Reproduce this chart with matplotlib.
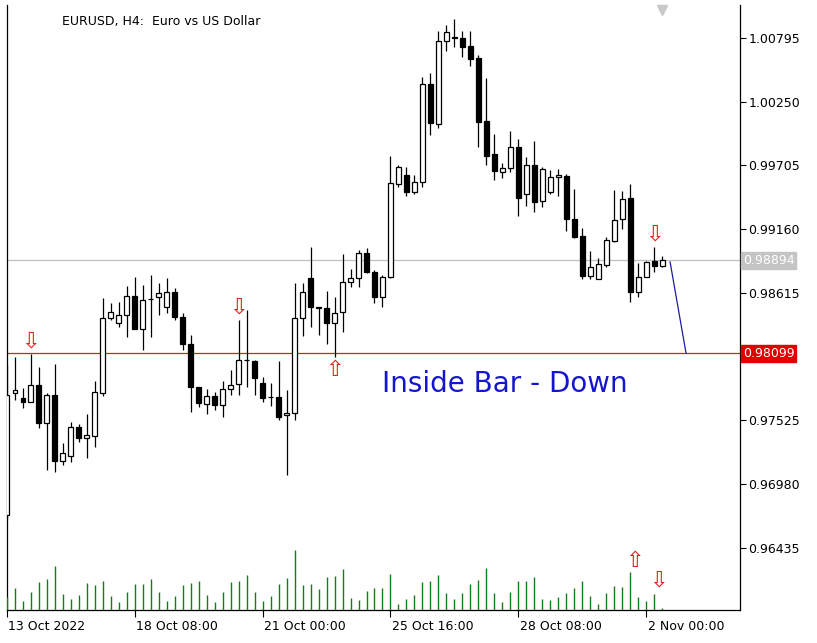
import matplotlib.pyplot as plt
import matplotlib.transforms as mtransforms
import numpy as np

# H4 candles, bar 0 = 13 Oct 2022 00:00
opens = [0.96717, 0.97760, 0.97717, 0.97683, 0.97828, 0.97503, 0.97743, 0.97179, 0.97221, 0.97469,
         0.97375, 0.97392, 0.97760, 0.98401, 0.98358, 0.98427, 0.98589, 0.98307, 0.98564, 0.98581,
         0.98495, 0.98623, 0.98410, 0.98179, 0.97812, 0.97666, 0.97734, 0.97657, 0.97794, 0.97837,
         0.98042, 0.98034, 0.97845, 0.97726, 0.97726, 0.97572, 0.97589, 0.98401, 0.98743, 0.98495,
         0.98487, 0.98358, 0.98452, 0.98709, 0.98743, 0.98957, 0.98794, 0.98581, 0.98752, 0.99547,
         0.99624, 0.99478, 0.99564, 1.00402, 1.00060, 1.00769, 1.00804, 1.00795, 1.00727, 1.00624,
         1.00085, 0.99803, 0.99649, 0.99684, 0.99863, 0.99461, 0.99709, 0.99401, 0.99478, 0.99607,
         0.99615, 0.99248, 0.99102, 0.98760, 0.98734, 0.98854, 0.99060, 0.99248, 0.99427, 0.98623,
         0.98752, 0.98889, 0.98846]
highs = [0.97999, 0.98068, 0.97803, 0.98093, 0.97982, 0.97760, 0.98008, 0.97332, 0.97512, 0.97495,
         0.97580, 0.97862, 0.98572, 0.98529, 0.98538, 0.98675, 0.98752, 0.98683, 0.98769, 0.98700,
         0.98743, 0.98658, 0.98444, 0.98256, 0.97812, 0.97794, 0.97768, 0.97862, 0.97956, 0.98384,
         0.98470, 0.98042, 0.97897, 0.97845, 0.98034, 0.97786, 0.98700, 0.98700, 0.99008, 0.98495,
         0.98632, 0.98581, 0.98948, 0.98820, 0.98983, 0.99000, 0.98812, 0.98769, 0.99786, 0.99709,
         0.99692, 0.99624, 1.00462, 1.00496, 1.00855, 1.00906, 1.00958, 1.00855, 1.00855, 1.00650,
         1.00453, 0.99974, 0.99726, 1.00000, 0.99932, 0.99778, 0.99914, 0.99692, 0.99667, 0.99675,
         0.99632, 0.99504, 0.99171, 0.98974, 0.98914, 0.99094, 0.99496, 0.99487, 0.99547, 0.98871,
         0.98889, 0.99008, 0.98932]
lows = [0.96674, 0.97700, 0.97632, 0.97683, 0.97461, 0.97102, 0.97084, 0.97144, 0.97170, 0.97341,
        0.97204, 0.97298, 0.97734, 0.98384, 0.98324, 0.98239, 0.98307, 0.98128, 0.98239, 0.98427,
        0.98444, 0.98384, 0.98128, 0.97597, 0.97640, 0.97580, 0.97615, 0.97555, 0.97743, 0.97743,
        0.97812, 0.97743, 0.97683, 0.97649, 0.97529, 0.97059, 0.97529, 0.98247, 0.98324, 0.98256,
        0.98179, 0.98068, 0.98281, 0.98666, 0.98666, 0.98786, 0.98529, 0.98495, 0.98743, 0.99521,
        0.99444, 0.99461, 0.99521, 0.99966, 1.00026, 1.00684, 1.00718, 1.00633, 1.00556, 0.99863,
        0.99709, 0.99581, 0.99598, 0.99649, 0.99273, 0.99359, 0.99307, 0.99350, 0.99461, 0.99444,
        0.99145, 0.99086, 0.98734, 0.98734, 0.98734, 0.98837, 0.99051, 0.99162, 0.98538, 0.98581,
        0.98752, 0.98794, 0.98837]
closes = [0.97743, 0.97786, 0.97683, 0.97828, 0.97503, 0.97743, 0.97179, 0.97247, 0.97469, 0.97375,
          0.97401, 0.97768, 0.98401, 0.98452, 0.98427, 0.98589, 0.98307, 0.98555, 0.98560, 0.98615,
          0.98623, 0.98410, 0.98179, 0.97812, 0.97675, 0.97734, 0.97657, 0.97794, 0.97828, 0.98042,
          0.98038, 0.97889, 0.97717, 0.97722, 0.97555, 0.97589, 0.98401, 0.98623, 0.98495, 0.98491,
          0.98358, 0.98444, 0.98709, 0.98743, 0.98957, 0.98794, 0.98581, 0.98752, 0.99555, 0.99692,
          0.99478, 0.99564, 1.00402, 1.00068, 1.00769, 1.00846, 1.00799, 1.00718, 1.00616, 1.00077,
          0.99786, 0.99658, 0.99684, 0.99863, 0.99427, 0.99709, 0.99393, 0.99675, 0.99607, 0.99624,
          0.99248, 0.99094, 0.98760, 0.98837, 0.98863, 0.99068, 0.99239, 0.99419, 0.98623, 0.98752,
          0.98880, 0.98846, 0.98894]
volumes = [40, 66, 27, 54, 84, 93, 132, 48, 33, 45, 81,
           75, 87, 42, 24, 54, 78, 78, 93, 54, 27,
           42, 75, 81, 87, 45, 24, 54, 84, 87, 105,
           54, 27, 42, 78, 96, 180, 75, 78, 63, 99,
           102, 123, 36, 30, 57, 66, 66, 108, 18,
           33, 45, 84, 87, 105, 51, 33, 51, 78, 90,
           126, 51, 24, 54, 87, 87, 99, 33, 30, 39,
           51, 66, 87, 42, 18, 51, 72, 69, 114, 39,
           27, 48, 6]

date_labels = ["13 Oct 2022", "18 Oct 08:00", "21 Oct 00:00", "25 Oct 16:00", "28 Oct 08:00", "2 Nov 00:00"]
date_bars = [0, 16, 32, 48, 64, 80]
price_ticks = [1.00795, 1.00250, 0.99705, 0.99160, 0.98615, 0.97525, 0.96980, 0.96435]

level = 0.98099
last_price = 0.98894
down_arrows = [3, 29, 81]
up_arrows = [41]

W, H = 817, 643
fig = plt.figure(figsize=(W / 100, H / 100), dpi=100)
ax = fig.add_axes([7 / W, 1 - 610 / H, (740 - 7) / W, (610 - 5) / H])

x = np.arange(len(opens))
o, h, l, c = map(np.array, (opens, highs, lows, closes))
up = c >= o

ax.vlines(x, l, h, color="black", linewidth=0.9, zorder=3)
body_lo = np.minimum(o, c)
body_h = np.maximum(np.abs(c - o), 0.00002)
ax.bar(x[up], body_h[up], bottom=body_lo[up], width=0.62, color="white",
       edgecolor="black", linewidth=0.9, zorder=4)
ax.bar(x[~up], body_h[~up], bottom=body_lo[~up], width=0.62, color="black",
       edgecolor="black", linewidth=0.9, zorder=4)

ax.set_xlim(0.125, 91.75)
ax.set_ylim(0.95905, 1.01077)

# volumes on their own scale at the bottom
vax = ax.twinx()
vax.set_ylim(0, 1815)
vax.vlines(x, 0, volumes, color="#1a7a1a", linewidth=1.0)
vax.axis("off")

ax.axhline(level, color="#d62020", linewidth=0.9, zorder=2)
ax.axhline(last_price, color="#c0c0c0", linewidth=0.9, zorder=1)

# projection line from the last bar down to the level
ax.plot([83, 85.0], [0.98880, level], color="#1c1c9c", linewidth=0.9)

arrow_kw = dict(ha="center", va="center", color="#e02020", fontsize=16, zorder=5)
for i in down_arrows:
    ax.text(i, h[i] + 0.0011, "⇩", **arrow_kw)
for i in up_arrows:
    ax.text(i, l[i] - 0.0011, "⇧", **arrow_kw)
ax.text(78.5, 0.96325, "⇧", **arrow_kw)
ax.text(81.5, 0.96155, "⇩", **arrow_kw)

ax.text(46.9, 0.97841, "Inside Bar - Down", color="#1515d0", fontsize=20,
        ha="left", va="center")
fig.text(62 / W, 1 - 22 / H, "EURUSD, H4:  Euro vs US Dollar", fontsize=9,
         ha="left", va="center")
ax.plot(82, 1.01030, marker="v", color="#c8c8c8", markersize=7, clip_on=False)

ax.yaxis.tick_right()
ax.set_yticks(price_ticks)
ax.set_yticklabels([f"{p:.5f}" for p in price_ticks])
ax.tick_params(axis="y", labelsize=9, length=4, direction="out", pad=2)
ax.set_xticks(date_bars)
ax.set_xticklabels(date_labels, ha="left")
ax.tick_params(axis="x", labelsize=9, length=5, direction="out", pad=2)
for lab in ax.get_xticklabels():
    lab.set_transform(lab.get_transform() + mtransforms.ScaledTranslation(1 / 72, 0, fig.dpi_scale_trans))

ax.spines["top"].set_visible(False)
for s in ("left", "right", "bottom"):
    ax.spines[s].set_linewidth(0.9)

blend = mtransforms.blended_transform_factory(ax.transAxes, ax.transData)
ax.text(1.004, level, "0.98099", transform=blend, fontsize=9, color="white",
        va="center", ha="left", bbox=dict(boxstyle="square,pad=0.15", fc="#e00000", ec="#e00000"))
ax.text(1.004, last_price, "0.98894", transform=blend, fontsize=9, color="white",
        va="center", ha="left", bbox=dict(boxstyle="square,pad=0.15", fc="#c4c4c4", ec="#c4c4c4"))

fig.savefig("out.png", dpi=100)
